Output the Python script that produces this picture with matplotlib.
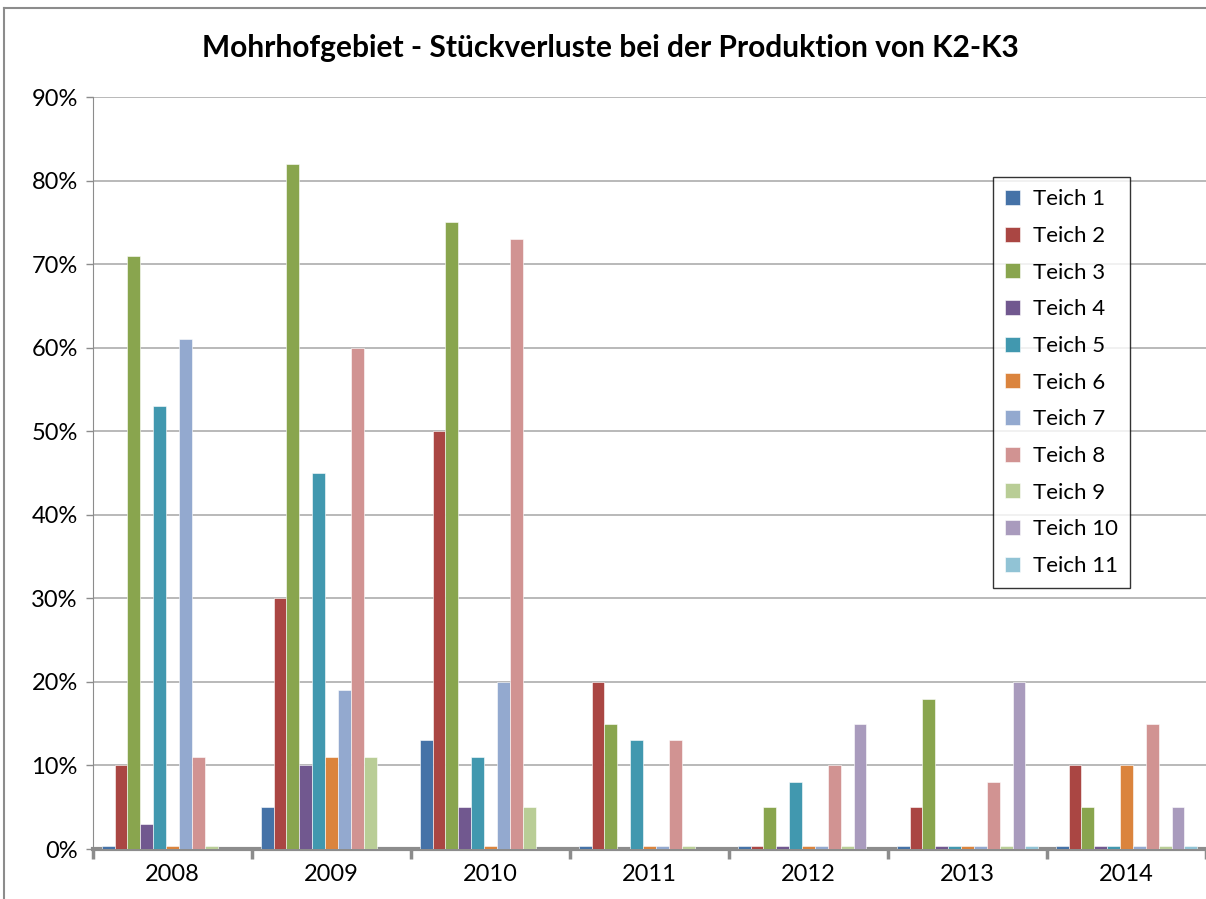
import numpy as np
import matplotlib
matplotlib.use("Agg")
import matplotlib.pyplot as plt
from matplotlib.lines import Line2D
from matplotlib.ticker import PercentFormatter, MultipleLocator

years = ["2008", "2009", "2010", "2011", "2012", "2013", "2014"]
teiche = ["Teich %d" % i for i in range(1, 12)]

# loss in percent per pond, one list per pond over the years (0 = no bar)
teich1 = [0.3, 5, 13, 0.3, 0.3, 0.3, 0.3]
teich2 = [10, 30, 50, 20, 0.3, 5, 10]
teich3 = [71, 82, 75, 15, 5, 18, 5]
teich4 = [3, 10, 5, 0, 0.3, 0.3, 0.3]
teich5 = [53, 45, 11, 13, 8, 0.3, 0.3]
teich6 = [0.3, 11, 0.3, 0.3, 0.3, 0.3, 10]
teich7 = [61, 19, 20, 0.3, 0.3, 0.3, 0.3]
teich8 = [11, 60, 73, 13, 10, 8, 15]
teich9 = [0.3, 11, 5, 0.3, 0.3, 0.3, 0.3]
teich10 = [0, 0, 0, 0, 15, 20, 5]
teich11 = [0, 0, 0, 0, 0, 0.3, 0.3]
series = [teich1, teich2, teich3, teich4, teich5, teich6,
          teich7, teich8, teich9, teich10, teich11]

colors = ["#4572A7", "#AA4643", "#89A54E", "#71588F", "#4198AF", "#DB843D",
          "#93A9CF", "#D19392", "#B9CD96", "#A99BBD", "#91C3D5"]

plt.rcParams['font.family'] = ['Lato', 'DejaVu Sans']

fig = plt.figure(figsize=(12.06, 8.99), dpi=100)
ax = fig.add_axes([93 / 1206, 1 - 849 / 899, 1113 / 1206, 752 / 899])

x = np.arange(len(years))
w = 0.081
for i, (vals, col, lab) in enumerate(zip(series, colors, teiche)):
    off = (i - 5) * w
    ax.bar(x + off, vals, width=w, color=col, label=lab,
           edgecolor="white", linewidth=0.4, zorder=3)

ax.set_xlim(-0.5, len(years) - 0.5)
ax.set_ylim(0, 90)
ax.yaxis.set_major_locator(MultipleLocator(10))
ax.yaxis.set_major_formatter(PercentFormatter(decimals=0))
ax.grid(axis="y", color="#b3b3b3", linewidth=1.3, zorder=0)

ax.set_xticks(x)
ax.set_xticklabels(years)
ax.set_xticks(np.arange(len(years) + 1) - 0.5, minor=True)
ax.tick_params(axis="x", which="major", length=0, labelsize=17, pad=11)
ax.tick_params(axis="x", which="minor", length=7, width=2.5, color="#8c8c8c")
ax.tick_params(axis="y", length=5, width=1, color="#8c8c8c", labelsize=17, pad=6)

for s in ["top", "right"]:
    ax.spines[s].set_visible(False)
ax.spines["left"].set_color("#8c8c8c")
ax.spines["bottom"].set_color("#8c8c8c")
ax.spines["bottom"].set_linewidth(3)

leg = ax.legend(loc="upper left", bbox_to_anchor=(0.8086, 0.8936),
                borderaxespad=0, fontsize=16, frameon=True, fancybox=False,
                edgecolor="black", handlelength=0.65, handleheight=0.65,
                labelspacing=0.75, borderpad=0.55, handletextpad=0.6)
leg.get_frame().set_linewidth(1)

fig.text(0.506, 0.947, "Mohrhofgebiet - Stückverluste bei der Produktion von K2-K3",
         ha="center", va="center", fontsize=21.5, fontweight="bold")

# chart border (top and left edge visible)
fig.add_artist(Line2D([4 / 1206, 1], [1 - 8 / 899] * 2, color="#8c8c8c", lw=1.5))
fig.add_artist(Line2D([4 / 1206] * 2, [0, 1 - 8 / 899], color="#8c8c8c", lw=1.5))

fig.savefig("out.png", dpi=100)
